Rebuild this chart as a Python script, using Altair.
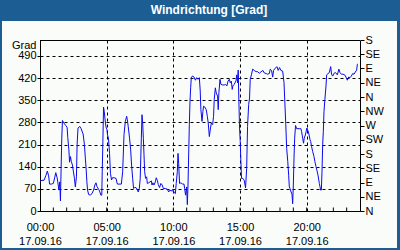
import altair as alt
import pandas as pd

# time of day in minutes after 00:00 on 17.09.16, wind direction in degrees
minutes = [0, 9, 18, 27, 33, 39, 43, 51, 60, 66, 71, 77, 80, 85, 89, 92, 95, 98, 101, 107,
           116, 122, 125, 130, 133, 137, 141, 146, 150, 155, 159, 164, 167, 171, 179, 185, 194, 200, 204, 208,
           211, 214, 219, 226, 234, 241, 247, 252, 256, 264, 268, 274, 278, 280, 283, 286, 289, 292, 295, 298,
           301, 304, 308, 313, 317, 322, 326, 334, 342, 348, 360,
           366, 372, 378, 384, 390, 393, 397, 403, 408, 412, 417, 421, 426, 432, 438, 442, 447, 451, 456, 459,
           462, 465, 468, 471, 475, 480, 483, 489, 495, 501, 504, 508, 513, 519, 523, 528, 532, 538, 544, 550,
           555, 564, 573, 579, 585, 591, 597, 601, 606, 609, 613, 618, 621, 624, 628, 634, 642, 648, 651, 655,
           660, 663, 666, 669, 672, 675, 678, 681, 688, 693, 699, 705, 711, 717,
           721, 724, 729, 733, 736, 742, 748, 753, 757, 762, 766, 771, 777, 781, 784, 789, 793, 799, 802, 805,
           810, 814, 822, 829, 835, 841, 846, 852, 856, 861, 865, 868, 874, 882, 886, 889, 892, 895, 898, 901,
           904, 907, 913, 919, 925, 930, 934, 939, 943, 946, 952, 957, 964, 972, 979, 987, 994, 1003, 1009, 1018,
           1024, 1032, 1036, 1042, 1047, 1051, 1059, 1066, 1072, 1078,
           1084, 1092, 1098, 1101, 1106, 1110, 1115, 1119, 1122, 1125, 1130, 1134, 1137, 1140, 1143, 1146, 1150,
           1155, 1168, 1174, 1177, 1182, 1186, 1189, 1194, 1198, 1201, 1206, 1210, 1215, 1218, 1222, 1227, 1233,
           1237, 1242, 1246, 1251, 1257, 1263, 1266, 1269, 1272, 1275, 1278, 1282, 1287, 1290, 1296, 1302, 1308,
           1312, 1317, 1323, 1330, 1338, 1345, 1350, 1356, 1363, 1371, 1377, 1383, 1389, 1395, 1401, 1407, 1413,
           1419, 1425, 1428, 1431]
degrees = [94, 97, 97, 113, 126, 111, 85, 85, 87, 105, 121, 105, 92, 66, 92, 32, 135, 230, 286, 278,
           270, 264, 232, 193, 154, 172, 156, 145, 126, 103, 76, 108, 211, 262, 267, 260, 243, 209, 167, 129,
           92, 66, 52, 50, 55, 66, 82, 89, 78, 68, 63, 50, 50, 124, 220, 328, 315, 294, 275, 262,
           258, 240, 230, 182, 119, 98, 105, 105, 103, 85, 85,
           85, 124, 241, 283, 299, 288, 267, 230, 193, 145, 103, 71, 74, 74, 68, 60, 71, 103, 230, 304,
           278, 230, 177, 124, 103, 108, 87, 89, 92, 95, 82, 89, 82, 92, 105, 97, 84, 74, 87, 82,
           71, 71, 69, 60, 66, 63, 68, 58, 60, 55, 87, 124, 182, 150, 87, 89, 85, 85, 71, 50,
           76, 20, 82, 177, 273, 347, 389, 423, 426, 423, 413, 421, 416, 421,
           379, 320, 283, 314, 331, 328, 320, 299, 278, 235, 256, 278, 273, 299, 352, 389, 373, 363, 320, 373,
           416, 400, 398, 398, 400, 395, 410, 416, 405, 410, 384, 395, 400, 411, 430, 405, 445, 347, 262, 220,
           156, 103, 103, 97, 73, 135, 267, 336, 357, 416, 432, 448, 444, 440, 440, 435, 439, 444, 436, 434,
           432, 434, 448, 444, 423, 444, 451, 456, 444, 453,
           444, 442, 405, 357, 273, 198, 156, 113, 76, 71, 60, 52, 23, 82, 167, 230, 270,
           260, 260, 260, 252, 230, 214, 230, 240, 252, 262, 253, 243, 225, 220, 204, 188, 172,
           156, 140, 129, 113, 87, 66, 66, 124, 209, 252, 315, 352, 395, 430, 434, 437, 456,
           432, 426, 435, 437, 430, 448, 437, 432, 432, 430, 423, 413, 423, 421, 426, 434, 432,
           439, 445, 463, 465]

left_ticks = [0, 70, 140, 210, 280, 350, 420, 490]
right_ticks = [0, 45, 90, 135, 180, 225, 270, 315, 360, 405, 450, 495, 540]
right_labels = ["N", "NE", "E", "SE", "S", "SW", "W", "NW", "N", "NE", "E", "SE", "S"]
x_label_ticks = [0, 300, 600, 900, 1200]
hour_ticks = list(range(60, 1440, 60))
date_label = "17.09.16"
title_text = "Windrichtung [Grad]"
y_title = "Grad"

FONT = "Liberation Sans"
BLUE = "#1c5e93"
PANEL = "#fafcfa"
LINE = "#0a0aee"

df = pd.DataFrame({"t": minutes, "deg": degrees})
xscale = alt.Scale(domain=[0, 1440], nice=False, zero=False)
yscale = alt.Scale(domain=[0, 540], nice=False)

lab_arr = "[" + ",".join("'%s'" % s for s in right_labels) + "]"
one = alt.Data(values=[{"a": 1}])

xaxis = alt.Axis(
    values=x_label_ticks, grid=True, gridColor="black", gridDash=[3, 3], gridOpacity=1,
    domain=True, domainColor="black", ticks=False, tickSize=0, labelPadding=10,
    labelFont=FONT, labelFontSize=11, labelColor="black", labelLineHeight=14.5,
    labelOverlap=False, labelFlush=False,
    labelExpr="[format(floor(datum.value/60), '02d') + ':00', '%s']" % date_label,
    title=None)


def frame_rect(x, x2, y, y2):
    return alt.Chart(one).mark_rect(fill=BLUE, stroke=None).encode(
        x=alt.value(x), x2=alt.value(x2), y=alt.value(y), y2=alt.value(y2))


frame = [
    frame_rect(-40, 360, -40, -19),   # title bar
    frame_rect(-40, -38, -40, 211),   # left border
    frame_rect(357, 360, -40, 211),   # right border
    frame_rect(-40, 360, 208, 211),   # bottom border
]

title = alt.Chart(alt.Data(values=[{"a": title_text}])).mark_text(
    font=FONT, fontSize=12, fontWeight="bold", color="white", align="center", baseline="middle"
).encode(x=alt.value(169), y=alt.value(-30), text="a:N")

main = alt.Chart(df).mark_line(color=LINE, strokeWidth=1, interpolate="linear").encode(
    x=alt.X("t:Q", scale=xscale, axis=xaxis),
    y=alt.Y("deg:Q", scale=yscale, axis=alt.Axis(
        orient="left", values=left_ticks, grid=True, gridColor="black", gridDash=[3, 3], gridOpacity=1,
        domain=True, domainColor="black", tickColor="black", tickSize=3, labelPadding=1,
        labelFont=FONT, labelFontSize=11, labelColor="black",
        title=y_title, titleAngle=0, titleX=-4, titleY=8, titleAlign="right", titleBaseline="alphabetic",
        titleFont=FONT, titleFontSize=11, titleFontWeight="normal", titleColor="black")),
)

right = alt.Chart(df).mark_line(opacity=0).encode(
    x=alt.X("t:Q", scale=xscale, axis=xaxis),
    y=alt.Y("deg:Q", scale=yscale, axis=alt.Axis(
        orient="right", values=right_ticks, grid=False, domain=True, domainColor="black",
        tickColor="black", tickSize=4, labelPadding=1, labelFont=FONT, labelFontSize=11,
        labelColor="black", labelExpr=lab_arr + "[round(datum.value/45)]", title=None)),
)

hticks = alt.Chart(pd.DataFrame({"t": hour_ticks})).mark_rule(color="black", strokeWidth=1).encode(
    x=alt.X("t:Q", scale=xscale, axis=xaxis), y=alt.value(171), y2=alt.value(167.5)
)

topline = alt.Chart(one).mark_rule(color="black", strokeWidth=1).encode(
    x=alt.value(0), x2=alt.value(320), y=alt.value(0.5)
)

chart = alt.layer(main, right, hticks, topline, *frame, title).resolve_axis(
    y="independent"
).properties(
    width=320, height=171,
    background=PANEL,
    padding={"left": 40, "top": 40, "right": 40, "bottom": 39},
    autosize=alt.AutoSizeParams(type="none"),
).configure_view(stroke=None)

chart.save("out.html", embed_options={"renderer": "svg", "actions": False})
